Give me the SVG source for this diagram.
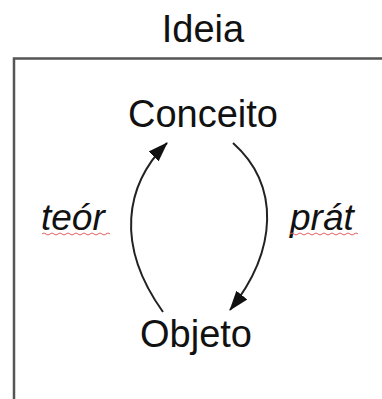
<svg xmlns="http://www.w3.org/2000/svg" width="382" height="399" viewBox="0 0 382 399">
<style>
.t{font-family:"Liberation Sans",Arial,sans-serif;font-size:38px;fill:#111;text-anchor:middle}
.i{font-family:"Liberation Sans",Arial,sans-serif;font-size:37px;font-style:italic;fill:#111}
.c{fill:none;stroke:#222;stroke-width:2}
.w{fill:none;stroke:#e06060;stroke-width:1}
</style>
<defs>
<marker id="ah" markerUnits="userSpaceOnUse" markerWidth="20" markerHeight="16" viewBox="0 0 20 16" refX="19" refY="8" orient="auto">
<path d="M0,1 L20,8 L0,15 Z" fill="#111"/>
</marker>
</defs>
<rect x="0" y="0" width="382" height="399" fill="#fff"/>
<g id="frame">
<path d="M14,399 L14,58.5 L382,58.5" fill="none" stroke="#555" stroke-width="2.5"/>
<text class="t" x="203" y="42" font-size="37">Ideia</text>
</g>
<g id="conceito"><text class="t" x="203" y="127">Conceito</text></g>
<g id="objeto"><text class="t" x="196" y="347">Objeto</text></g>
<g id="connectors">
<path class="c" d="M163,312 C115,245 125,185 167,143" marker-end="url(#ah)"/>
<path class="c" d="M233,143 C280,185 278,250 230,310" marker-end="url(#ah)"/>
<text class="i" x="41" y="230">teór</text>
<path class="w" d="M42,234 q2,-2 4,0 t4,0 t4,0 t4,0 t4,0 t4,0 t4,0 t4,0 t4,0 t4,0 t4,0 t4,0 t4,0 t4,0 t4,0 t4,0 t4,0"/>
<text class="i" x="290" y="230">prát</text>
<path class="w" d="M290,234 q2,-2 4,0 t4,0 t4,0 t4,0 t4,0 t4,0 t4,0 t4,0 t4,0 t4,0 t4,0 t4,0 t4,0 t4,0 t4,0 t4,0 t4,0"/>
</g>
</svg>
